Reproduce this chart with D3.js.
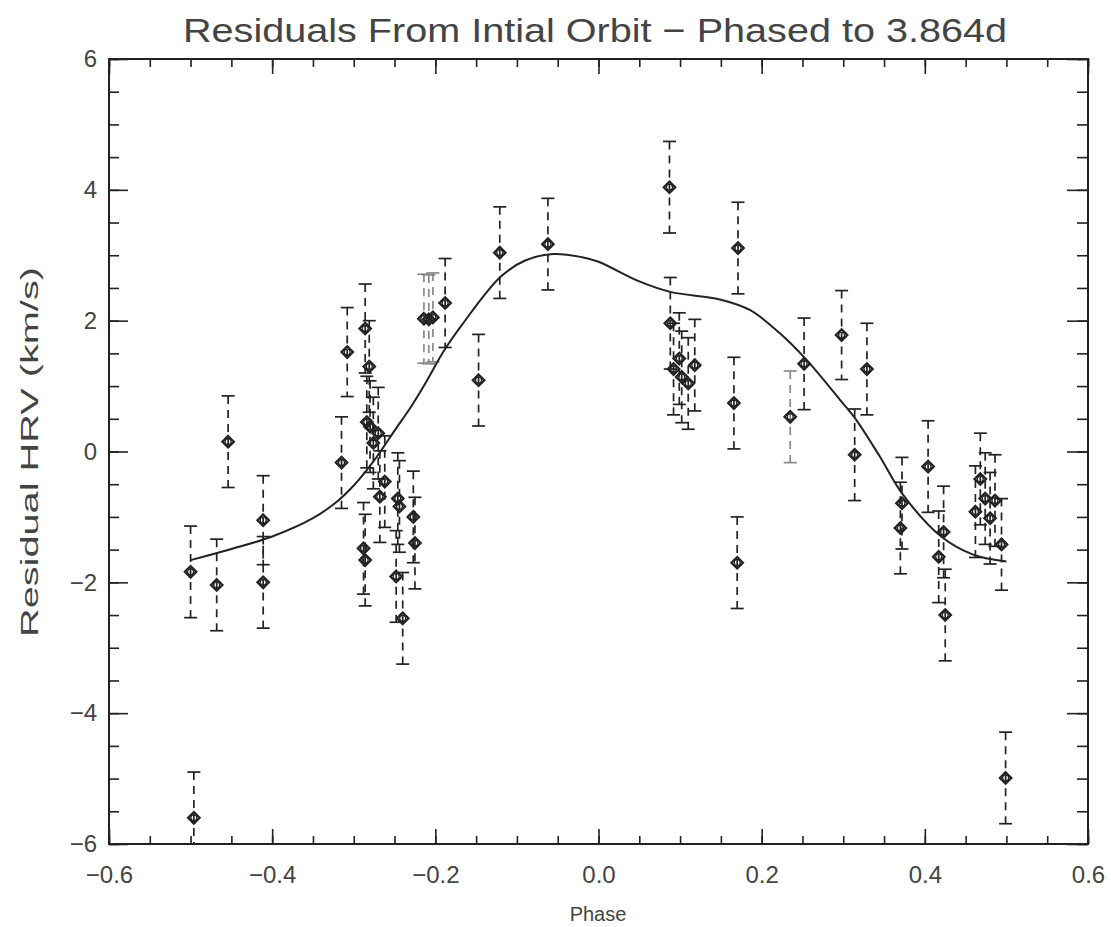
<!DOCTYPE html>
<html>
<head>
<meta charset="utf-8">
<script src="https://cdn.jsdelivr.net/npm/d3@7"></script>
<style>
  html, body { margin: 0; padding: 0; background: #fff; }
  svg { display: block; }
  text { font-family: "Liberation Sans", "DejaVu Sans", sans-serif; fill: #444; }
</style>
</head>
<body>
<svg id="chart" width="1111" height="927"></svg>
<script>
// ---- data ----
const phase = [-0.500,-0.496,-0.468,-0.454,-0.411,-0.411,-0.315,-0.308,-0.288,-0.286,
  -0.286,-0.284,-0.281,-0.280,-0.276,-0.270,-0.268,-0.262,-0.248,-0.246,
  -0.244,-0.240,-0.227,-0.225,-0.214,-0.208,-0.203,-0.188,-0.147,-0.121,
  -0.062,0.087,0.088,0.092,0.099,0.102,0.110,0.118,0.166,0.170,
  0.171,0.235,0.252,0.298,0.314,0.329,0.372,0.370,0.404,0.417,
  0.423,0.425,0.462,0.468,0.474,0.480,0.486,0.494,0.499];
const residual = [-1.84,-5.60,-2.04,0.15,-1.05,-2.00,-0.17,1.52,-1.48,-1.66,
  1.88,0.45,1.30,0.38,0.13,0.28,-0.69,-0.46,-1.91,-0.72,
  -0.84,-2.55,-1.00,-1.40,2.03,2.02,2.05,2.27,1.09,3.04,
  3.17,4.04,1.96,1.26,1.42,1.14,1.04,1.32,0.74,-1.70,
  3.11,0.53,1.34,1.78,-0.05,1.26,-0.79,-1.17,-0.23,-1.61,
  -1.23,-2.50,-0.92,-0.42,-0.72,-1.02,-0.75,-1.42,-4.99];
const errorBar = [0.70,0.70,0.70,0.70,0.68,0.70,0.70,0.68,0.70,0.70,
  0.68,0.70,0.70,0.70,0.70,0.70,0.70,0.70,0.70,0.70,
  0.70,0.70,0.70,0.70,0.68,0.68,0.68,0.68,0.70,0.70,
  0.70,0.70,0.70,0.70,0.70,0.70,0.70,0.70,0.70,0.70,
  0.70,0.70,0.70,0.68,0.70,0.70,0.70,0.70,0.70,0.70,
  0.70,0.70,0.70,0.70,0.70,0.70,0.70,0.70,0.70];
// error bars that look paler in the scanned original
const paleBars = [24, 25, 26, 41];

const fitPhase = [-0.50,-0.45,-0.40,-0.35,-0.32,-0.30,-0.28,-0.264,-0.25,-0.23,-0.21,-0.19,-0.166,-0.12,-0.09,-0.055,-0.02,0.0,0.05,0.088,0.15,0.186,0.222,0.255,0.296,0.315,0.345,0.372,0.42,0.46,0.50];
const fitValue = [-1.66,-1.49,-1.30,-1.02,-0.76,-0.52,-0.22,0.06,0.32,0.68,1.09,1.53,1.96,2.67,2.92,3.02,2.97,2.90,2.60,2.44,2.32,2.16,1.81,1.40,0.79,0.50,-0.08,-0.64,-1.30,-1.58,-1.68];

const xTickValues = [-0.6,-0.4,-0.2,0.0,0.2,0.4,0.6];
const xTickLabels = ["\u22120.6","\u22120.4","\u22120.2","0.0","0.2","0.4","0.6"];
const yTickValues = [-6,-4,-2,0,2,4,6];
const yTickLabels = ["\u22126","\u22124","\u22122","0","2","4","6"];

const titleText = "Residuals From Intial Orbit \u2212 Phased to 3.864d";
const xLabel = "Phase";
const yLabel = "Residual HRV (km/s)";

// ---- layout ----
const svg = d3.select("#chart");
const L = 109, R = 1088, T = 59, B = 844;
const x = d3.scaleLinear().domain([-0.6, 0.6]).range([L, R]);
const y = d3.scaleLinear().domain([-6, 6]).range([B, T]);
const ink = "#222";

svg.append("defs").append("clipPath").attr("id","clip")
  .append("rect").attr("x", L).attr("y", T).attr("width", R - L).attr("height", B - T);

// axes (IDL style: inward ticks on all sides)
const xMinor = d3.range(-0.6, 0.6001, 0.05).map(v => +v.toFixed(3));
const yMinor = d3.range(-6, 6.001, 0.5).map(v => +v.toFixed(2));

function styleAxis(g) {
  g.select(".domain").remove();
  g.selectAll("line").attr("stroke", ink).attr("stroke-width", 1.6);
}
// bottom
svg.append("g").attr("transform", `translate(0,${B})`)
  .call(d3.axisBottom(x).tickValues(xMinor).tickSize(-8).tickFormat(""))
  .call(styleAxis);
svg.append("g").attr("transform", `translate(0,${B})`)
  .call(d3.axisBottom(x).tickValues(xTickValues).tickSize(-15).tickPadding(22)
    .tickFormat((d, i) => xTickLabels[i]))
  .call(styleAxis)
  .call(g => g.selectAll("text").attr("font-size", 24).attr("fill", "#444")
    .attr("font-family", "Liberation Sans, sans-serif"));
// top
svg.append("g").attr("transform", `translate(0,${T})`)
  .call(d3.axisTop(x).tickValues(xMinor).tickSize(-8).tickFormat(""))
  .call(styleAxis);
svg.append("g").attr("transform", `translate(0,${T})`)
  .call(d3.axisTop(x).tickValues(xTickValues).tickSize(-15).tickFormat(""))
  .call(styleAxis);
// left
svg.append("g").attr("transform", `translate(${L},0)`)
  .call(d3.axisLeft(y).tickValues(yMinor).tickSize(-10).tickFormat(""))
  .call(styleAxis);
svg.append("g").attr("transform", `translate(${L},0)`)
  .call(d3.axisLeft(y).tickValues(yTickValues).tickSize(-19).tickPadding(-8)
    .tickFormat((d, i) => yTickLabels[i]))
  .call(styleAxis)
  .call(g => g.selectAll("text").attr("font-size", 24).attr("fill", "#444")
    .attr("x", -12).attr("font-family", "Liberation Sans, sans-serif"));
// right
svg.append("g").attr("transform", `translate(${R},0)`)
  .call(d3.axisRight(y).tickValues(yMinor).tickSize(-11).tickFormat(""))
  .call(styleAxis);
svg.append("g").attr("transform", `translate(${R},0)`)
  .call(d3.axisRight(y).tickValues(yTickValues).tickSize(-21).tickFormat(""))
  .call(styleAxis);

// frame
svg.append("rect").attr("x", L).attr("y", T).attr("width", R - L).attr("height", B - T)
  .attr("fill", "none").attr("stroke", ink).attr("stroke-width", 2);

// ---- data marks ----
const pts = phase.map((p, i) => ({p, v: residual[i], e: errorBar[i], pale: paleBars.includes(i)}));
const plot = svg.append("g").attr("clip-path", "url(#clip)");
const capW = 6.5;
const barColor = d => d.pale ? "#8a8a8a" : ink;

const eb = plot.selectAll("g.eb").data(pts).join("g").attr("class", "eb");
eb.append("line")
  .attr("x1", d => x(d.p)).attr("x2", d => x(d.p))
  .attr("y1", d => y(d.v + d.e)).attr("y2", d => y(d.v - d.e))
  .attr("stroke", barColor).attr("stroke-width", 1.7).attr("stroke-dasharray", "8,6");
eb.append("line")
  .attr("x1", d => x(d.p) - capW).attr("x2", d => x(d.p) + capW)
  .attr("y1", d => y(d.v + d.e)).attr("y2", d => y(d.v + d.e))
  .attr("stroke", barColor).attr("stroke-width", 1.7);
eb.append("line")
  .attr("x1", d => x(d.p) - capW).attr("x2", d => x(d.p) + capW)
  .attr("y1", d => y(d.v - d.e)).attr("y2", d => y(d.v - d.e))
  .attr("stroke", barColor).attr("stroke-width", 1.7);

const diamond = d3.symbol().type(d3.symbolDiamond2).size(85);
plot.selectAll("path.pt").data(pts).join("path").attr("class", "pt")
  .attr("d", diamond)
  .attr("transform", d => `translate(${x(d.p)},${y(d.v)})`)
  .attr("fill", "none").attr("stroke", ink).attr("stroke-width", 2.2);
plot.selectAll("circle.pc").data(pts).join("circle").attr("class", "pc")
  .attr("cx", d => x(d.p)).attr("cy", d => y(d.v)).attr("r", 3)
  .attr("fill", "none").attr("stroke", ink).attr("stroke-width", 1.3);

// fitted curve
const fit = fitPhase.map((p, i) => [p, fitValue[i]]);
plot.append("path").datum(fit)
  .attr("d", d3.line().x(d => x(d[0])).y(d => y(d[1])).curve(d3.curveCatmullRom.alpha(0.5)))
  .attr("fill", "none").attr("stroke", ink).attr("stroke-width", 2);

// ---- texts ----
svg.append("text").attr("x", 595).attr("y", 42).attr("text-anchor", "middle")
  .attr("font-size", 34).attr("textLength", 824).attr("lengthAdjust", "spacingAndGlyphs")
  .attr("fill", "#4a4a4a").text(titleText);
svg.append("text").attr("x", 598).attr("y", 921).attr("text-anchor", "middle")
  .attr("font-size", 20).text(xLabel);
svg.append("text").attr("transform", "translate(38,452) rotate(-90)")
  .attr("text-anchor", "middle").attr("font-size", 23).attr("fill", "#555")
  .attr("textLength", 370).attr("lengthAdjust", "spacingAndGlyphs").text(yLabel);
</script>
</body>
</html>
